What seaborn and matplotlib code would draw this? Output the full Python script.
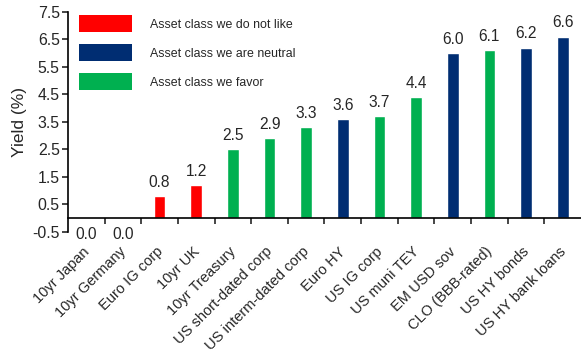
import matplotlib
matplotlib.use("Agg")
import matplotlib.pyplot as plt
from matplotlib.patches import Patch
from matplotlib.transforms import ScaledTranslation
import numpy as np
import pandas as pd
import seaborn as sns

categories = ["10yr Japan", "10yr Germany", "Euro IG corp", "10yr UK", "10yr Treasury",
              "US short-dated corp", "US interm-dated corp", "Euro HY", "US IG corp",
              "US muni TEY", "EM USD sov", "CLO (BBB-rated)", "US HY bonds", "US HY bank loans"]
yields = [0.0, 0.0, 0.8, 1.2, 2.5, 2.9, 3.3, 3.6, 3.7, 4.4, 6.0, 6.1, 6.2, 6.6]
views = ["dislike", "dislike", "dislike", "dislike", "favor", "favor", "favor", "neutral",
         "favor", "favor", "neutral", "favor", "neutral", "neutral"]
view_labels = {"dislike": "Asset class we do not like",
               "neutral": "Asset class we are neutral",
               "favor": "Asset class we favor"}
yticks = [-0.5, 0.5, 1.5, 2.5, 3.5, 4.5, 5.5, 6.5, 7.5]

palette = {"dislike": "#FF0000", "neutral": "#002D72", "favor": "#00B050"}

df = pd.DataFrame({"category": categories, "yield": yields, "view": views})

sns.set_style("white")
plt.rcParams["font.family"] = ["Liberation Sans", "DejaVu Sans"]

fig = plt.figure(figsize=(5.81, 3.52), dpi=100)
ax = fig.add_axes([0.117, 0.341, 0.883, 0.625])

sns.barplot(data=df, x="category", y="yield", hue="view", palette=palette,
            dodge=False, width=0.32, legend=False, ax=ax, saturation=1)

ax.set_xlim(-0.5, len(categories) - 0.5)
ax.set_ylim(-0.5, 7.5)
ax.set_yticks(yticks)
ax.set_yticklabels([f"{t:.1f}" for t in yticks], fontsize=11.4)
ax.set_ylabel("Yield (%)", fontsize=12.5, labelpad=4)
ax.set_xlabel("")

# axis lines: left spine full height, bottom spine along zero
for side in ("top", "right"):
    ax.spines[side].set_visible(False)
ax.spines["bottom"].set_position(("data", 0))
for side in ("left", "bottom"):
    ax.spines[side].set_color("black")
    ax.spines[side].set_linewidth(1.2)

ax.tick_params(axis="y", direction="out", length=4, width=1.2, left=True, pad=2)
ax.set_xticks(np.arange(len(categories)))
ax.set_xticklabels(categories, rotation=45, ha="right", rotation_mode="anchor", fontsize=10.5)
ax.tick_params(axis="x", which="major", length=0, pad=19)
shift = ScaledTranslation(-0.04, 0, fig.dpi_scale_trans)
for lbl in ax.get_xticklabels():
    lbl.set_transform(lbl.get_transform() + shift)
ax.set_xticks(np.arange(len(categories) - 1) + 0.5, minor=True)
ax.tick_params(axis="x", which="minor", direction="out", length=4, width=1.2, bottom=True)

# value labels
for i, v in enumerate(yields):
    off = 10 if v > 0 else -11.5
    ax.annotate(f"{v:.1f}", xy=(i, v), xytext=(0, off), textcoords="offset points",
                ha="center", va="center", fontsize=11.2)

handles = [Patch(facecolor=palette[k], edgecolor="none", label=view_labels[k])
           for k in ("dislike", "neutral", "favor")]
ax.legend(handles=handles, loc="upper left", bbox_to_anchor=(0.0, 1.035), frameon=False,
          fontsize=8.9, handlelength=4.3, handleheight=1.7, labelspacing=1.0,
          handletextpad=1.4, borderaxespad=0.5)

fig.savefig("out.png", dpi=100)
